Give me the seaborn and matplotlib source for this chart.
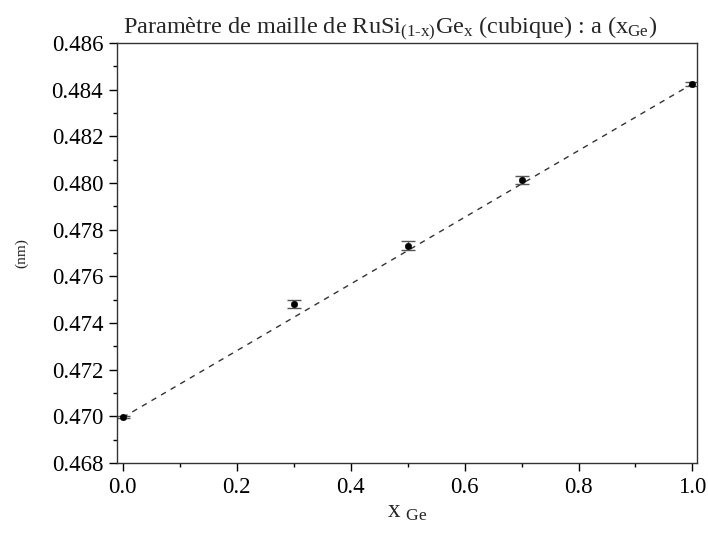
import matplotlib
matplotlib.use("Agg")
import matplotlib.pyplot as plt
import seaborn as sns
import numpy as np
import pandas as pd
from matplotlib.ticker import MultipleLocator, FormatStrFormatter

# Data
x_ge = [0.0, 0.3, 0.5, 0.7, 1.0]
a_nm = [0.46997, 0.47482, 0.47732, 0.48013, 0.48423]
a_err = [0.00005, 0.00018, 0.00020, 0.00017, 0.00008]

# Vegard line (dashed) endpoints
vegard_x = [0.0, 1.0]
vegard_y = [0.46995, 0.48425]

sns.set_theme(style="white")
plt.rcParams['font.family'] = ['Liberation Serif', 'DejaVu Serif']
plt.rcParams['mathtext.fontset'] = 'custom'
plt.rcParams['mathtext.rm'] = 'Liberation Serif'
plt.rcParams['mathtext.it'] = 'Liberation Serif'

df = pd.DataFrame({"x": x_ge, "a": a_nm, "err": a_err})
vdf = pd.DataFrame({"x": vegard_x, "a": vegard_y})

fig = plt.figure(figsize=(7.08, 5.33), dpi=100)
ax = fig.add_axes([0.1653, 0.1313, 0.8192, 0.788])

sns.lineplot(data=vdf, x="x", y="a", ax=ax, color="#333333", lw=1.0,
             linestyle=(0, (4, 4)))
ax.errorbar(df["x"], df["a"], yerr=df["err"], fmt="none", ecolor="#555555",
            elinewidth=1.0, capsize=5, capthick=1.0)
sns.scatterplot(data=df, x="x", y="a", ax=ax, color="black", s=22,
                edgecolor="black", zorder=5)

ax.set_xlim(-0.01, 1.008)
ax.set_ylim(0.468, 0.486)
ax.xaxis.set_major_locator(MultipleLocator(0.2))
ax.xaxis.set_minor_locator(MultipleLocator(0.1))
ax.yaxis.set_major_locator(MultipleLocator(0.002))
ax.yaxis.set_minor_locator(MultipleLocator(0.001))
ax.xaxis.set_major_formatter(FormatStrFormatter('%.1f'))
ax.yaxis.set_major_formatter(FormatStrFormatter('%.3f'))

ax.tick_params(axis='both', which='major', direction='out', length=6, width=1,
               labelsize=16.5, color='black', labelcolor='black', pad=4,
               bottom=True, left=True, top=False, right=False)
ax.tick_params(axis='both', which='minor', direction='out', length=3, width=1,
               color='black', bottom=True, left=True, top=False, right=False)
for s in ax.spines.values():
    s.set_color('#333333')
    s.set_linewidth(1.0)

ax.set_xlabel(r"x $_{\mathregular{Ge}}$", fontsize=18, labelpad=2)
ax.set_ylabel("(nm)", fontsize=11, labelpad=17)
ax.set_title(r"Paramètre de maille de RuSi$_{\mathregular{(1\text{-}x)}}$Ge$_{\mathregular{x}}$ (cubique) : a (x$_{\mathregular{Ge}}$)",
             fontsize=17.5, pad=5, x=0.47)

fig.savefig("out.png", dpi=100)
